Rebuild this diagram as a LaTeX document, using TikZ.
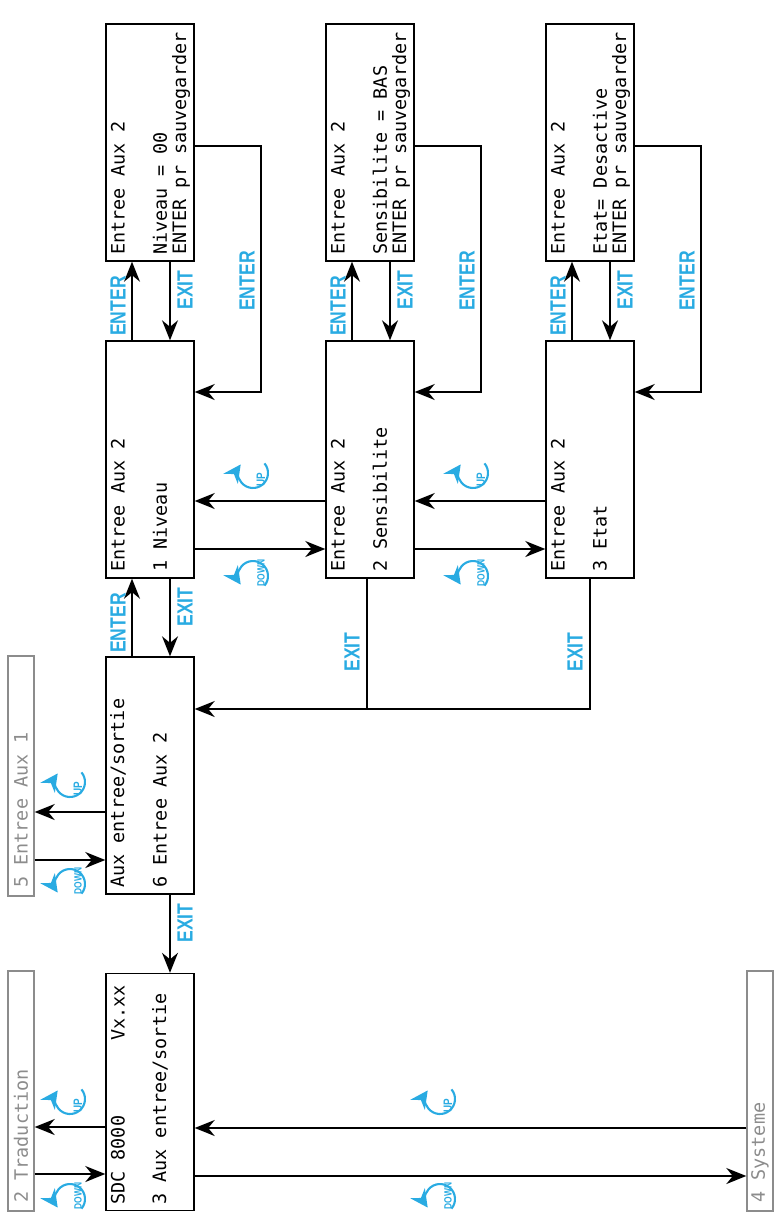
\documentclass[tikz,border=0pt]{standalone}
\usepackage{fontspec}
\newfontfamily\lcdfont{DejaVu Sans Mono}
\newfontfamily\keyfont[FakeStretch=0.8]{Liberation Sans}
\usetikzlibrary{arrows.meta}
\definecolor{keycyan}{RGB}{41,171,226}
\definecolor{dimgray}{RGB}{140,140,140}
\begin{document}
\begin{tikzpicture}[x=0.2mm, y=-0.2mm, >={Stealth[length=4mm,width=3.2mm]}]
\tikzstyle{box} = [draw, thick, minimum width=17.6mm, minimum height=47.4mm, inner sep=0pt]
\tikzstyle{ghost} = [draw=dimgray, thick, minimum width=5.2mm, minimum height=48mm, inner sep=0pt]
\tikzstyle{lcd} = [rotate=90, anchor=west, inner sep=0pt, font=\lcdfont\fontsize{10.5}{10.5}\selectfont]
\tikzstyle{dim} = [lcd, text=dimgray]
\tikzstyle{key} = [rotate=90, inner sep=0pt, text=keycyan, font=\keyfont\bfseries\fontsize{12.5}{12.5}\selectfont]
\tikzstyle{arr} = [->, thick]
\tikzset{
  upicon/.pic={\draw[keycyan, very thick, -{Stealth[length=3.5mm,width=3.5mm]}] (-40:15) arc (-40:215:15);
    \node[key, font=\keyfont\bfseries\fontsize{7}{7}\selectfont] at (8,7) {UP};},
  downicon/.pic={\draw[keycyan, very thick, -{Stealth[length=3.5mm,width=3.5mm]}] (40:15) arc (40:-215:15);
    \node[key, font=\keyfont\bfseries\fontsize{6}{6}\selectfont] at (8,-3) {DOWN};}
}
\useasboundingbox (0,0) rectangle (782,1228);

% boxes
\node[box] (nedit) at (150,142.5) {};
\node[box] (niv) at (150,459.5) {};
\node[box] (sedit) at (370,142.5) {};
\node[box] (sens) at (370,459.5) {};
\node[box] (eedit) at (590,142.5) {};
\node[box] (etat) at (590,459.5) {};
\node[box] (aux) at (150,775.5) {};
\node[box] (sdc) at (150,1092) {};
\node[ghost] (aux1) at (21,776) {};
\node[ghost] (trad) at (21,1091) {};
\node[ghost] (sys) at (760,1091) {};

% texts
\node[lcd] at (118,255) {Entree Aux 2};
\node[lcd] at (160,255) {Niveau = 00};
\node[lcd] at (181,255) {ENTER pr sauvegarder};
\node[lcd] at (118,572) {Entree Aux 2};
\node[lcd] at (160,572) {1 Niveau};
\node[lcd] at (338,255) {Entree Aux 2};
\node[lcd] at (380,255) {Sensibilite = BAS};
\node[lcd] at (401,255) {ENTER pr sauvegarder};
\node[lcd] at (338,572) {Entree Aux 2};
\node[lcd] at (380,572) {2 Sensibilite};
\node[lcd] at (558,255) {Entree Aux 2};
\node[lcd] at (600,255) {Etat= Desactive};
\node[lcd] at (621,255) {ENTER pr sauvegarder};
\node[lcd] at (558,572) {Entree Aux 2};
\node[lcd] at (600,572) {3 Etat};
\node[lcd] at (118,888) {Aux entree/sortie};
\node[lcd] at (160,888) {6 Entree Aux 2};
\node[lcd] at (118,1205) {SDC 8000};
\node[lcd, anchor=east] at (118,985) {Vx.xx};
\node[lcd] at (160,1205) {3 Aux entree/sortie};
\node[dim] at (21,888) {5 Entree Aux 1};
\node[dim] at (21,1203) {2 Traduction};
\node[dim] at (760,1203) {4 Systeme};

% ENTER / EXIT between levels
\foreach \m/\e/\x in {niv/nedit/106, sens/sedit/326, etat/eedit/546}{
  \draw[arr] (\m.north -| \x+26,0) -- (\e.south -| \x+26,0);
  \draw[arr] (\e.south -| \x+64,0) -- (\m.north -| \x+64,0);
  \node[key] at (\x+12,306) {ENTER};
  \node[key] at (\x+79,290) {EXIT};
  \draw[arr] (\e.east |- 0,146) -| (\x+155,392) -- (\m.east |- 0,392);
  \node[key] at (\x+141,281) {ENTER};
}
\draw[arr] (aux.north -| 132,0) -- (niv.south -| 132,0);
\draw[arr] (niv.south -| 170,0) -- (aux.north -| 170,0);
\node[key] at (118,623) {ENTER};
\node[key] at (185,607) {EXIT};
\draw[arr] (aux.south -| 170,0) -- (sdc.north -| 170,0);
\node[key] at (185,923) {EXIT};

% UP / DOWN between menus
\foreach \a/\b/\x in {niv/sens/253, sens/etat/473}{
  \draw[arr] (\a.east |- 0,549) -- (\b.west |- 0,549);
  \draw[arr] (\b.west |- 0,501) -- (\a.east |- 0,501);
  \pic at (\x,473) {upicon};
  \pic at (\x,576) {downicon};
}

% EXIT back to Aux
\draw[thick] (sens.south -| 367,0) -- (367,709);
\draw[arr] (etat.south -| 590,0) -- (590,709) -- (aux.east |- 0,709);
\node[key] at (352,652) {EXIT};
\node[key] at (575,652) {EXIT};

% side menus
\draw[arr] (aux1.east |- 0,860) -- (aux.west |- 0,860);
\draw[arr] (aux.west |- 0,812) -- (aux1.east |- 0,812);
\pic at (70,782) {upicon};
\pic at (70,884) {downicon};
\draw[arr] (trad.east |- 0,1174) -- (sdc.west |- 0,1174);
\draw[arr] (sdc.west |- 0,1127) -- (trad.east |- 0,1127);
\pic at (70,1099) {upicon};
\pic at (70,1199) {downicon};
\draw[arr] (sdc.east |- 0,1176) -- (sys.west |- 0,1176);
\draw[arr] (sys.west |- 0,1128) -- (sdc.east |- 0,1128);
\pic at (440,1099) {upicon};
\pic at (440,1199) {downicon};
\end{tikzpicture}
\end{document}
